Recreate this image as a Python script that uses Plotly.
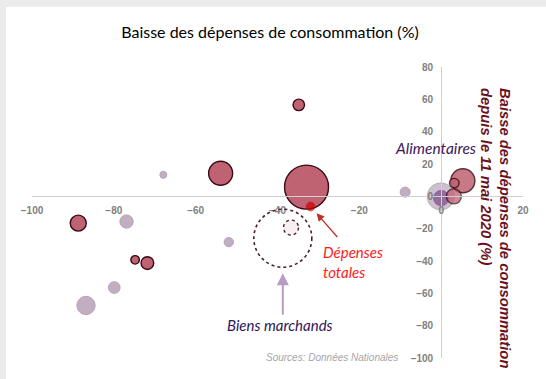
import plotly.graph_objects as go

# ---- data ----
rouge_x = [-88.7, -74.8, -71.8, -53.9, -34.8, -32.9, 5.3, 3.1, 3.2]
rouge_y = [-16.6, -39.3, -41.3, 14.3, 56.6, 5.7, 9.6, 0.0, 8.2]
rouge_taille = [16, 8.5, 12.7, 24, 11.5, 44, 24, 15, 9.5]

violet_x = [-67.9, -76.9, -79.9, -86.8, -51.9, -8.8]
violet_y = [13.3, -15.6, -56.4, -67.5, -28.3, 2.6]
violet_taille = [7, 13.3, 11.7, 18.3, 9.3, 10]

alim_x = [-0.1, 0.0]
alim_y = [-0.1, -1.1]
alim_taille = [26.7, 15]

total_x = [-31.9]
total_y = [-6.3]
total_taille = [8.7]

biens_x = [-38.7, -36.7]
biens_y = [-25.9, -19.3]
biens_taille = [58, 15]

x_ticks = [-100, -80, -60, -40, -20, 0, 20]
y_ticks = [-100, -80, -60, -40, -20, 0, 20, 40, 60, 80]

TITRE = "Baisse des dépenses de consommation (%)"
TITRE_Y = "Baisse des dépenses de consommation<br>depuis le 11 mai 2020 (%)"

fig = go.Figure()

fig.add_trace(go.Scatter(
    x=violet_x, y=violet_y, mode="markers", hoverinfo="skip",
    marker=dict(size=violet_taille, color="#a88ca8",
                line=dict(color="#9a7e9a", width=1)),
))
fig.add_trace(go.Scatter(
    x=alim_x, y=alim_y, mode="markers", hoverinfo="skip",
    marker=dict(size=alim_taille, color=["rgba(150,115,160,0.65)", "#7a4b84"],
                line=dict(color=["#9a9a9a", "#6e4578"], width=1.2)),
))
fig.add_trace(go.Scatter(
    x=rouge_x, y=rouge_y, mode="markers", hoverinfo="skip",
    marker=dict(size=rouge_taille, color="#bf6272",
                opacity=[1, 1, 1, 1, 1, 1, 0.85, 0.75, 0.85],
                line=dict(color="#3a0a16", width=1.4)),
))
fig.add_trace(go.Scatter(
    x=total_x, y=total_y, mode="markers", hoverinfo="skip",
    marker=dict(size=total_taille, color="#cc0000",
                line=dict(color="#cc0000", width=1)),
))
fig.add_trace(go.Scatter(
    x=biens_x[1:], y=biens_y[1:], mode="markers", hoverinfo="skip",
    marker=dict(size=biens_taille[1:], color="#f4e8ec",
                line=dict(color="#f4e8ec", width=0)),
))

# dotted outlines for "Biens marchands" (anchored on data, sized in px)
for bx, by, bs, w in zip(biens_x, biens_y, biens_taille, [1.6, 1.4]):
    r = bs / 2
    fig.add_shape(type="circle", xref="x", yref="y",
                  xsizemode="pixel", ysizemode="pixel",
                  xanchor=bx, yanchor=by, x0=-r, x1=r, y0=-r, y1=r,
                  line=dict(color="#4a2030", width=w, dash="dot"))

# white card on light grey background
fig.add_shape(type="rect", xref="paper", yref="paper", layer="below",
              x0=(6 - 32) / 491, x1=(560 - 32) / 491,
              y0=(358 - 390) / 291, y1=1 + (67 - 7) / 291,
              line=dict(width=0), fillcolor="white")


def px(x):
    return (x - 32) / 491


def py(y):
    return (358 - y) / 291


it_font = "Lato"
# arrows
fig.add_annotation(x=total_x[0], y=total_y[0], xref="x", yref="y", text="",
                   showarrow=True, ax=28, ay=32, axref="pixel", ayref="pixel",
                   arrowhead=2, arrowsize=1.2, arrowwidth=1.3, arrowcolor="#c0302a",
                   standoff=9)
fig.add_annotation(x=biens_x[0], y=biens_y[0], xref="x", yref="y", text="",
                   showarrow=True, ax=0, ay=78, axref="pixel", ayref="pixel",
                   arrowhead=2, arrowsize=1.2, arrowwidth=2, arrowcolor="#b89cc3",
                   standoff=35)

# labels
fig.add_annotation(x=px(435), y=py(148), xref="paper", yref="paper",
                   xanchor="center", yanchor="middle",
                   text="<i>Alimentaires</i>", showarrow=False,
                   font=dict(family=it_font, size=15.5, color="#3c1860"))
fig.add_annotation(x=px(321), y=py(262), xref="paper", yref="paper",
                   text="<i>Dépenses<br>totales</i>", showarrow=False, align="left",
                   xanchor="left", yanchor="middle",
                   font=dict(family=it_font, size=15, color="#ff1a1a"))
fig.add_annotation(x=px(280), y=py(325), xref="paper", yref="paper",
                   xanchor="center", yanchor="middle",
                   text="<i>Biens marchands</i>", showarrow=False,
                   font=dict(family=it_font, size=15, color="#2e1658"))
fig.add_annotation(x=px(400), y=py(357), xref="paper", yref="paper",
                   text="<i>Sources: Données Nationales</i>", showarrow=False,
                   xanchor="right", yanchor="middle",
                   font=dict(family="Liberation Sans", size=10, color="#a6a6a6"))
fig.add_annotation(x=px(496), y=py(86), xref="paper", yref="paper",
                   text="<b><i>" + TITRE_Y + "</i></b>", showarrow=False,
                   textangle=90, align="left", xanchor="center", yanchor="top",
                   font=dict(family="Liberation Sans", size=14.8, color="#6a1020"))

tick_font = dict(family="Liberation Sans", size=10, color="#808080", weight="bold")
axis_common = dict(showgrid=False, zeroline=False, showline=True, linecolor="#cfcfcf",
                   linewidth=1, ticks="outside", tickcolor="rgba(0,0,0,0)",
                   tickfont=tick_font, anchor="free", fixedrange=True)

fig.update_layout(
    width=546, height=379,
    margin=dict(l=32, r=23, t=67, b=21),
    paper_bgcolor="#ebebeb", plot_bgcolor="rgba(0,0,0,0)",
    showlegend=False,
    title=dict(text=TITRE, x=270 / 546, xanchor="center", xref="container",
               y=1 - 32 / 379, yanchor="middle", yref="container",
               font=dict(family="Lato", size=16, color="#000000")),
    xaxis=dict(range=[-100, 20], tickvals=x_ticks, ticklen=5,
               position=100 / 180, **axis_common),
    yaxis=dict(range=[-100, 80], tickvals=y_ticks, ticklen=6, side="left",
               position=100 / 120, **axis_common),
)

fig.write_html("out.html", config={"displayModeBar": False},
               post_script="document.body.style.margin='0px';document.body.style.padding='0px';")
